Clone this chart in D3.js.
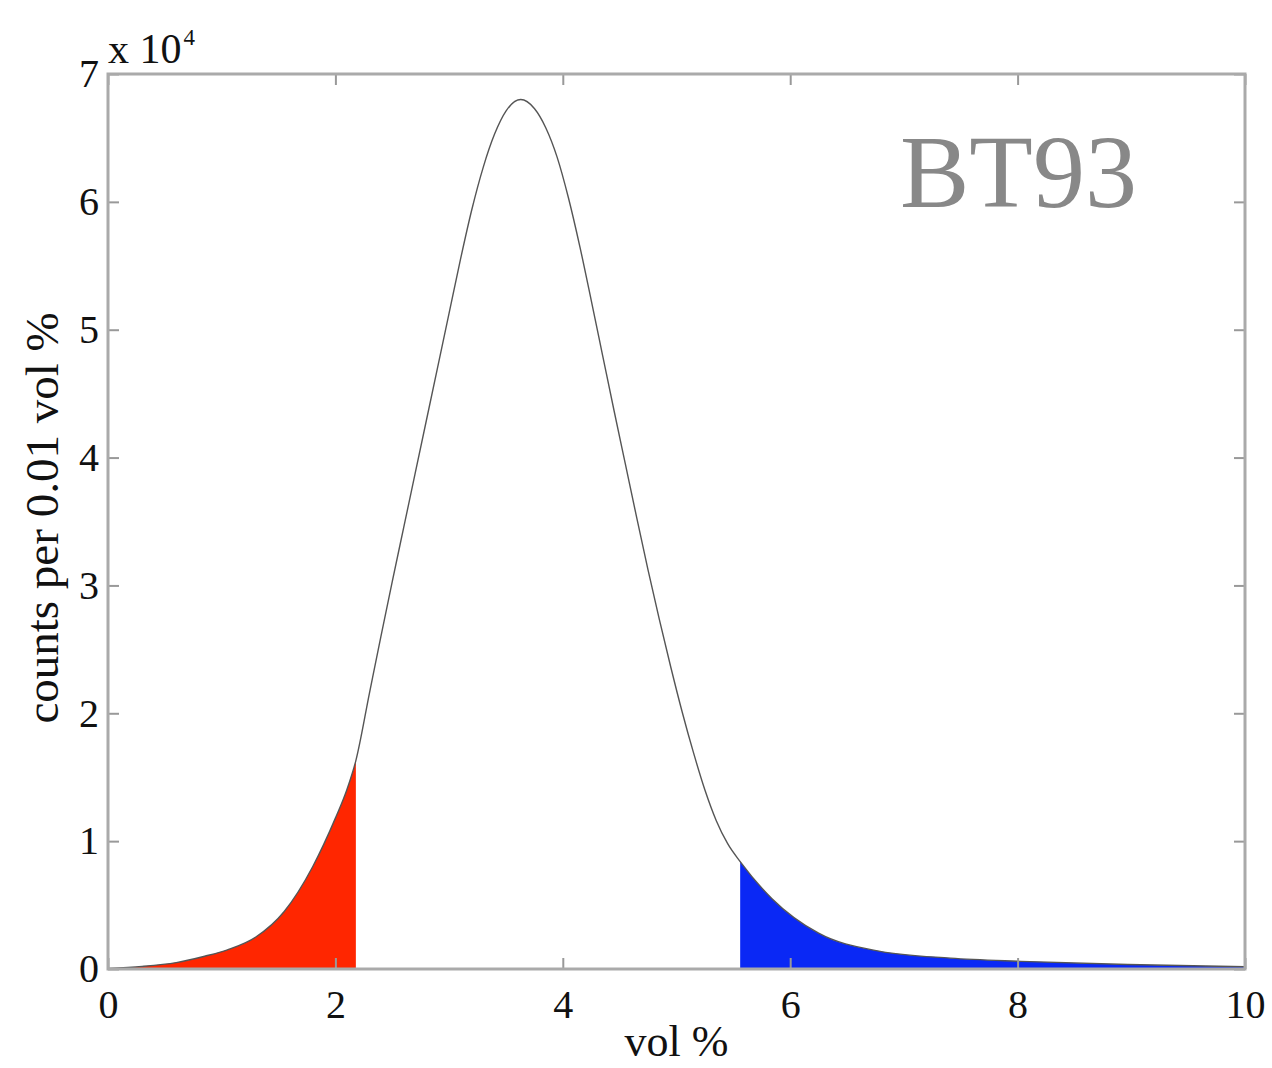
<!DOCTYPE html>
<html>
<head>
<meta charset="utf-8">
<script src="https://cdn.jsdelivr.net/npm/d3@7"></script>
<style>
  body { margin: 0; background: #fff; }
  text { font-family: "Liberation Serif", "Times New Roman", serif; fill: #111; }
</style>
</head>
<body>
<svg id="chart"></svg>
<script>
// values (vol %, counts per 0.01 vol %)
var volPct = [0, 0.3, 0.6, 0.85, 1.05, 1.3, 1.55, 1.8, 2.0, 2.1, 2.18, 2.3, 2.4, 2.5, 2.6, 2.7, 2.8, 2.9, 3.0,
              3.1, 3.2, 3.3, 3.4, 3.5, 3.63, 3.75, 3.85, 3.95, 4.05, 4.15, 4.25, 4.35, 4.45, 4.55, 4.65,
              4.75, 4.85, 4.95, 5.05, 5.15, 5.25, 5.35, 5.45, 5.56, 5.84, 6.25, 6.78, 7.41, 8.03, 8.97, 10];
var counts = [50, 200, 500, 1000, 1500, 2500, 4500, 8000, 11800, 14000, 16300, 21600, 26000, 30300, 34500, 38700,
              42900, 47100, 51300, 55500, 59400, 62700, 65300, 67100, 68000, 67300, 65800, 63500, 60300, 56500,
              52300, 48000, 43700, 39500, 35300, 31200, 27300, 23600, 20100, 16900, 14000, 11600, 9800, 8400,
              5500, 2800, 1400, 850, 600, 350, 180];
var lowCut = 2.18, highCut = 5.56;
var xTicks = [0, 2, 4, 6, 8, 10];
var yTicks = [0, 10000, 20000, 30000, 40000, 50000, 60000, 70000];
var sampleName = "BT93";

var width = 1272, height = 1068;
var margin = { top: 74, right: 27, bottom: 99, left: 108 };
var w = width - margin.left - margin.right,
    h = height - margin.top - margin.bottom;

var svg = d3.select('#chart')
    .attr('width', width)
    .attr('height', height);

svg.append('rect').attr('width', width).attr('height', height).attr('fill', '#fff');

var g = svg.append('g')
    .attr('transform', 'translate(' + margin.left + ',' + margin.top + ')');

var x = d3.scaleLinear().domain([0, 10]).range([0, w]),
    y = d3.scaleLinear().domain([0, 70000]).range([h, 0]);

var data = volPct.map(function(v, i) { return { v: v, c: counts[i] }; });

var area = d3.area()
    .curve(d3.curveMonotoneX)
    .x(function(d) { return x(d.v); })
    .y0(h)
    .y1(function(d) { return y(d.c); });

var line = d3.line()
    .curve(d3.curveMonotoneX)
    .x(function(d) { return x(d.v); })
    .y(function(d) { return y(d.c); });

// clip rects for the two shaded tails
var defs = svg.append('defs');
defs.append('clipPath').attr('id', 'lowClip')
  .append('rect').attr('x', x(0)).attr('y', 0).attr('width', x(lowCut) - x(0)).attr('height', h);
defs.append('clipPath').attr('id', 'highClip')
  .append('rect').attr('x', x(highCut)).attr('y', 0).attr('width', x(10) - x(highCut)).attr('height', h);

g.append('path').datum(data)
    .attr('d', area)
    .attr('fill', '#ff2600')
    .attr('clip-path', 'url(#lowClip)');

g.append('path').datum(data)
    .attr('d', area)
    .attr('fill', '#0a28f5')
    .attr('clip-path', 'url(#highClip)');

g.append('path').datum(data)
    .attr('d', line)
    .attr('fill', 'none')
    .attr('stroke', '#555')
    .attr('stroke-width', 1.4);

// axes with inward ticks
var fmtY = function(d) { return d / 10000; };

var gl = g.append('g').call(d3.axisLeft(y).tickValues(yTicks).tickSize(-11).tickPadding(9).tickFormat(fmtY));
var gb = g.append('g').attr('transform', 'translate(0,' + h + ')')
    .call(d3.axisBottom(x).tickValues(xTicks).tickSize(-11).tickPadding(21).tickFormat(d3.format('d')));
var gt = g.append('g').call(d3.axisTop(x).tickValues(xTicks).tickSize(-11).tickFormat(''));
var gr = g.append('g').attr('transform', 'translate(' + w + ',0)')
    .call(d3.axisRight(y).tickValues(yTicks).tickSize(-11).tickFormat(''));

[gl, gb, gt, gr].forEach(function(a) {
  a.select('.domain').remove();
  a.selectAll('line').attr('stroke', '#999').attr('stroke-width', 2);
  a.selectAll('text').style('font-size', '40px').style('font-family', '"Liberation Serif", serif').attr('fill', '#111');
});

g.append('rect')
    .attr('width', w).attr('height', h)
    .attr('fill', 'none')
    .attr('stroke', '#aaa')
    .attr('stroke-width', 3);

// labels
svg.append('text')
    .attr('x', margin.left + w / 2)
    .attr('y', 1056)
    .attr('text-anchor', 'middle')
    .style('font-size', '44px')
    .text('vol %');

svg.append('text')
    .attr('transform', 'translate(58,518) rotate(-90)')
    .attr('text-anchor', 'middle')
    .style('font-size', '47px')
    .text('counts per 0.01 vol %');

var expo = svg.append('text')
    .attr('x', 108)
    .attr('y', 63)
    .style('font-size', '42px')
    .text('x 10');
expo.append('tspan')
    .attr('dy', -18)
    .attr('dx', 2)
    .style('font-size', '23px')
    .text('4');

svg.append('text')
    .attr('x', 900)
    .attr('y', 207)
    .style('font-size', '104px')
    .style('fill', '#888')
    .text(sampleName);
</script>
</body>
</html>
